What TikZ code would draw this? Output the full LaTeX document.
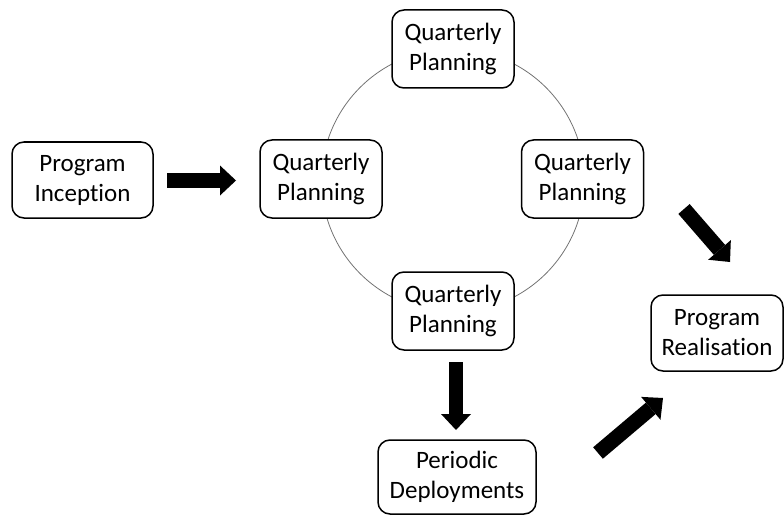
\documentclass[tikz,border=0pt]{standalone}
\usepackage{fontspec}
\setmainfont{Carlito}[Ligatures=NoCommon]
\usetikzlibrary{arrows.meta}
\begin{document}
\begin{tikzpicture}[x=1pt,y=-1pt,
  stagebox/.style={draw=black, line width=1.5pt, rounded corners=12pt, fill=white,
    align=center, inner sep=0pt, font=\fontsize{25}{30}\selectfont},
  blockarrow/.style={line width=15pt, line cap=butt,
    -{Triangle[length=16pt,width=30pt,line width=0pt]}},
  cycle line/.style={draw=black!55, line width=0.8pt}]
  \useasboundingbox (0,0) rectangle (784,516);

  % planning cycle behind the boxes
  \coordinate (hub) at (453,180.5);
  \draw[cycle line] (hub) circle[radius=131.5];

  % stages
  \node[stagebox, minimum width=141pt, minimum height=76pt] (inception) at (82.5,180) {Program\\Inception};
  \node[stagebox, minimum width=122pt, minimum height=78pt] (qtop) at (453,49) {Quarterly\\Planning};
  \node[stagebox, minimum width=122pt, minimum height=78pt] (qleft) at (321,179) {Quarterly\\Planning};
  \node[stagebox, minimum width=122pt, minimum height=78pt] (qright) at (582.5,179) {Quarterly\\Planning};
  \node[stagebox, minimum width=122pt, minimum height=78pt] (qbottom) at (453,311) {Quarterly\\Planning};
  \node[stagebox, minimum width=158pt, minimum height=74pt] (deploy) at (457,477) {Periodic\\Deployments};
  \node[stagebox, minimum width=132pt, minimum height=76pt] (realise) at (717,333) {Program\\Realisation};

  % block arrows between stages
  \coordinate (a1s) at (167,180.5);  \coordinate (a1e) at (236,180.5);
  \coordinate (a2s) at (456,362);    \coordinate (a2e) at (456,430);
  \coordinate (a3s) at (684,209);    \coordinate (a3e) at (730,262);
  \coordinate (a4s) at (598,453);    \coordinate (a4e) at (663,398);
  \draw[blockarrow] (a1s) -- (a1e);
  \draw[blockarrow, line width=14pt] (a2s) -- (a2e);
  \draw[blockarrow] (a3s) -- (a3e);
  \draw[blockarrow] (a4s) -- (a4e);
\end{tikzpicture}
\end{document}
